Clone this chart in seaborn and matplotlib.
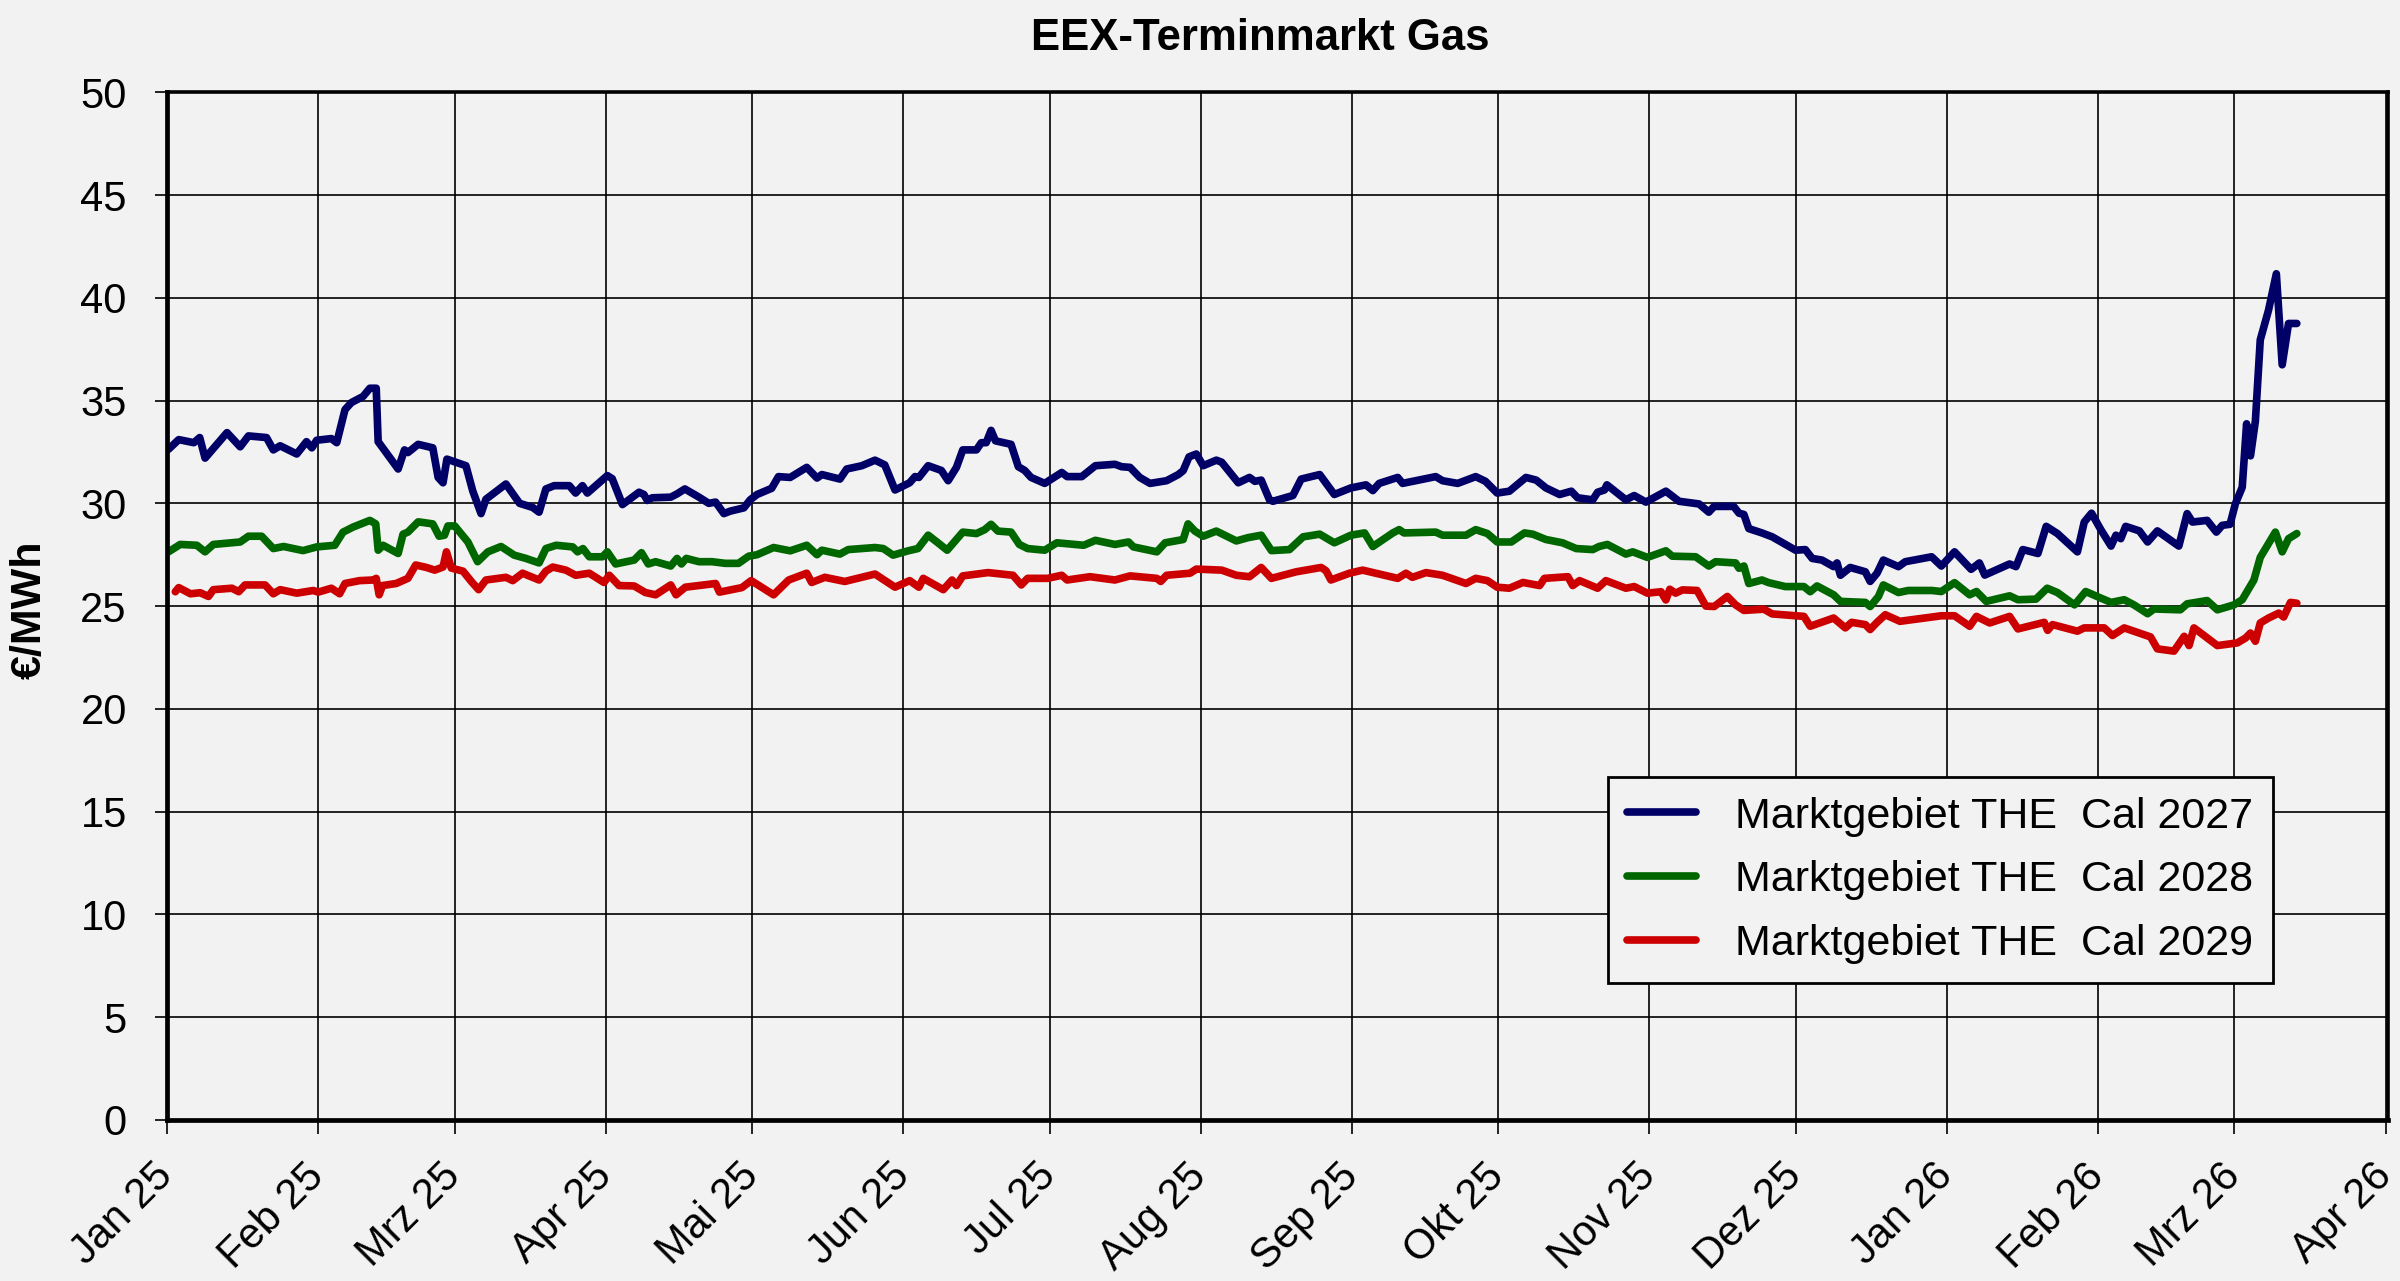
import numpy as np
import pandas as pd
import matplotlib
matplotlib.use("Agg")
import matplotlib.pyplot as plt
import seaborn as sns

# Tage ab 01.01.2025 und Preise in EUR/MWh
days_2027 = [0.3, 2.4, 5.5, 6.7, 7.8, 12.3, 15.0, 16.7, 20.4, 21.8, 23.2, 26.6, 28.6, 29.7, 30.7, 33.7, 34.8,
             36.5, 37.8, 40.2, 41.6, 42.9, 43.3, 47.4, 48.7, 49.4, 51.5, 54.5, 55.6, 56.6, 57.4, 61.3, 62.7,
             64.4, 65.4, 69.5, 72.3, 75.0, 76.3, 77.7, 79.4, 82.5, 83.8, 85.2, 86.2, 90.3, 91.3,
             93.4, 96.8, 97.8, 98.5, 99.5, 103.3, 104.6, 106.2, 109.1, 111.1, 112.5, 114.2, 115.5, 118.3,
             119.6, 121.0, 124.0, 125.4, 127.8, 131.2, 133.3, 134.3, 138.0, 139.4, 142.5, 145.2, 147.2, 149.3,
             152.3, 153.4, 154.2, 156.1, 158.8, 160.2, 161.9, 163.2, 166.0, 167.0, 168.0, 169.0, 169.9, 173.1,
             174.6, 175.9, 177.2, 180.0,
             183.5, 184.6, 187.6, 190.4, 194.4, 195.8, 197.5, 199.5, 201.6, 205.0, 207.4, 208.4, 209.6, 211.1,
             212.5, 215.2, 216.3, 219.7, 222.0, 223.1, 224.4, 226.1, 226.8, 230.9, 232.6, 236.4, 239.4, 242.8,
             245.9, 247.3, 248.6, 251.4, 252.4, 253.4, 260.2, 261.6, 264.7, 268.4, 270.4, 272.8,
             275.3, 278.7, 280.8, 282.8, 285.6, 288.0, 289.3, 292.4, 293.4, 294.8, 295.3, 299.2, 300.9, 303.3,
             307.4, 310.1, 314.2, 316.2, 317.3, 321.3, 322.4, 323.4, 324.4, 327.1, 329.2, 334.0, 336.0, 337.4,
             339.4, 341.8, 342.5, 343.2, 345.2, 348.3, 349.3, 350.7, 352.0, 355.1, 356.5, 361.9,
             363.9, 366.6, 370.0, 371.7, 372.8, 377.9, 379.2, 380.6, 383.7, 385.4, 387.7, 391.8, 393.2, 394.7,
             396.6, 398.7, 399.7, 400.7, 401.7, 404.5, 406.2, 408.2, 412.6, 414.3, 415.4, 418.4, 420.3, 421.5,
             423.1, 424.2, 425.6, 426.5, 427.3, 428.3, 429.3, 431.0, 432.6, 433.8, 435.1, 436.8]
cal_2027 = [32.63, 33.1, 32.95, 33.2, 32.2, 33.44, 32.75, 33.28, 33.2, 32.6, 32.8, 32.4, 33.0, 32.7, 33.07, 33.15, 32.95,
            34.56, 34.9, 35.2, 35.6, 35.6, 33.0, 31.67, 32.6, 32.47, 32.87, 32.7, 31.26, 31.0, 32.15, 31.83, 30.6,
            29.5, 30.2, 30.94, 30.0, 29.8, 29.57, 30.7, 30.86, 30.86, 30.5, 30.86, 30.5, 31.35, 31.2,
            29.94, 30.54, 30.43, 30.14, 30.27, 30.3, 30.46, 30.7, 30.3, 30.0, 30.06, 29.5, 29.62, 29.78,
            30.17, 30.43, 30.73, 31.3, 31.26, 31.75, 31.23, 31.4, 31.18, 31.67, 31.83, 32.1, 31.87, 30.65,
            31.0, 31.3, 31.26, 31.83, 31.6, 31.1, 31.75, 32.6, 32.6, 32.95, 32.95, 33.55, 33.04, 32.87,
            31.78, 31.6, 31.26, 30.97,
            31.5, 31.3, 31.3, 31.83, 31.9, 31.78, 31.75, 31.26, 30.97, 31.1, 31.4, 31.59, 32.26, 32.4,
            31.83, 32.1, 32.0, 31.0, 31.26, 31.07, 31.13, 30.17, 30.1, 30.38, 31.18, 31.4, 30.43, 30.75,
            30.9, 30.62, 30.97, 31.18, 31.26, 30.97, 31.3, 31.1, 30.97, 31.3, 31.07, 30.5,
            30.59, 31.26, 31.13, 30.75, 30.43, 30.59, 30.27, 30.17, 30.54, 30.65, 30.9, 30.17, 30.38, 30.06,
            30.59, 30.1, 29.97, 29.57, 29.85, 29.85, 29.52, 29.46, 28.77, 28.56, 28.37, 27.72, 27.75, 27.32,
            27.24, 26.92, 27.1, 26.5, 26.88, 26.67, 26.2, 26.6, 27.24, 26.92, 27.16, 27.4,
            26.95, 27.64, 26.79, 27.1, 26.51, 27.05, 26.92, 27.75, 27.56, 28.88, 28.53, 27.64, 29.09, 29.52,
            28.72, 27.92, 28.45, 28.28, 28.88, 28.66, 28.12, 28.66, 27.92, 29.5, 29.09, 29.17, 28.6, 28.93,
            28.98, 29.98, 30.78, 33.87, 32.31, 34.0, 37.95, 39.4, 41.17, 36.74, 38.75, 38.75]

days_2028 = [0.3, 2.7, 6.1, 7.8, 9.5, 15.0, 16.7, 19.4, 21.8, 23.9, 27.9, 30.7, 34.4, 36.1, 38.2, 41.6, 42.8,
             43.3, 44.3, 47.4, 48.4, 49.4, 51.5, 54.5, 55.8, 56.9, 57.6, 59.0, 61.7, 63.7, 65.8, 68.5, 71.2,
             73.6, 76.3, 77.7, 79.8, 83.2, 84.2, 85.3, 86.6, 89.3, 90.3,
             92.0, 95.8, 97.3, 98.7, 100.2, 103.3, 104.6, 105.5, 106.5, 109.1, 111.8, 114.5, 117.2, 119.3,
             121.0, 124.4, 127.8, 131.2, 133.3, 134.3, 138.0, 139.7, 145.2, 146.9, 148.9, 152.0, 154.0, 156.1,
             158.1, 160.0, 163.2, 166.0, 167.7, 169.0, 170.4, 173.1, 174.8, 176.5, 180.0,
             182.5, 188.0, 190.4, 194.4, 197.2, 198.2, 203.0, 204.7, 208.4, 209.4, 210.8, 212.5, 215.2, 219.3,
             221.7, 224.4, 226.5, 230.2, 233.0, 236.4, 239.4, 242.8, 245.6, 247.3, 251.4, 252.7, 253.7, 260.2,
             261.6, 266.4, 268.4, 270.8, 272.8,
             275.7, 278.4, 280.1, 282.8, 286.2, 289.0, 292.4, 293.7, 295.4, 299.2, 300.6, 303.6, 307.4, 308.7,
             313.5, 316.2, 317.6, 321.7, 322.4, 323.4, 324.4, 327.1, 328.5, 331.9, 335.7, 337.0, 338.4, 341.8,
             343.2, 348.3, 349.3, 351.0, 352.0, 355.1, 357.1, 361.9,
             363.9, 366.6, 369.7, 371.1, 373.1, 377.9, 379.6, 383.3, 385.6, 387.7, 391.2, 393.5, 396.6, 398.7,
             401.4, 403.4, 406.2, 407.5, 412.9, 414.3, 418.4, 420.5, 423.9, 425.6, 428.0, 429.3, 431.0, 432.4,
             433.8, 435.1, 436.8]
cal_2028 = [27.64, 28.0, 27.96, 27.64, 28.0, 28.12, 28.4, 28.4, 27.8, 27.9, 27.7, 27.88, 27.96, 28.6, 28.85, 29.17, 29.0,
            27.72, 27.96, 27.56, 28.5, 28.6, 29.1, 29.0, 28.4, 28.45, 28.9, 28.9, 28.12, 27.16, 27.64, 27.9, 27.48,
            27.32, 27.1, 27.8, 27.96, 27.88, 27.64, 27.8, 27.4, 27.4, 27.64,
            27.05, 27.24, 27.6, 27.05, 27.16, 26.95, 27.32, 27.05, 27.32, 27.16, 27.16, 27.08, 27.08, 27.43,
            27.5, 27.85, 27.69, 27.96, 27.5, 27.72, 27.53, 27.75, 27.85, 27.8, 27.48, 27.69, 27.8, 28.45,
            28.08, 27.72, 28.6, 28.53, 28.72, 28.98, 28.65, 28.6, 28.0, 27.8, 27.72,
            28.08, 27.96, 28.2, 28.0, 28.12, 27.88, 27.64, 28.08, 28.24, 29.0, 28.65, 28.4, 28.65, 28.17,
            28.33, 28.45, 27.7, 27.75, 28.37, 28.5, 28.08, 28.45, 28.56, 27.9, 28.56, 28.72, 28.56, 28.6,
            28.45, 28.45, 28.72, 28.53, 28.12,
            28.12, 28.56, 28.5, 28.24, 28.08, 27.8, 27.75, 27.9, 28.0, 27.53, 27.64, 27.37, 27.69, 27.43,
            27.4, 26.95, 27.16, 27.1, 26.84, 26.95, 26.1, 26.27, 26.14, 25.95, 25.95, 25.7, 25.98, 25.55,
            25.23, 25.18, 24.98, 25.47, 26.03, 25.66, 25.76, 25.76,
            25.71, 26.14, 25.55, 25.71, 25.23, 25.5, 25.31, 25.34, 25.87, 25.66, 25.06, 25.71, 25.39, 25.18,
            25.31, 25.06, 24.63, 24.86, 24.82, 25.11, 25.27, 24.82, 25.06, 25.31, 26.27, 27.37, 28.04, 28.6,
            27.64, 28.28, 28.53]

days_2029 = [1.7, 2.4, 4.8, 6.8, 8.5, 9.5, 13.3, 14.7, 16.0, 20.1, 21.8, 23.2, 26.6, 30.0, 31.0, 33.7, 35.4,
             36.5, 39.5, 42.3, 42.9, 43.5, 44.2, 47.0, 49.4, 51.0, 53.2, 54.9, 56.6, 57.3, 58.3, 60.7, 62.4,
             63.9, 65.4, 69.5, 70.9, 72.9, 76.3, 77.7, 79.1, 81.8, 83.8, 86.6, 89.6, 90.7, 92.7,
             95.8, 98.1, 100.2, 103.3, 104.4, 106.3, 112.5, 113.3, 117.9, 119.8, 124.4, 127.5, 131.2, 132.2,
             134.9, 139.0, 145.2, 149.3, 152.3, 154.2, 155.1, 159.2, 161.0, 161.9, 163.2, 168.4, 173.5, 175.2,
             176.5, 180.6,
             183.5, 184.6, 189.3, 194.4, 197.5, 203.0, 203.8, 205.0, 209.8, 211.1, 216.3, 219.3, 222.0, 224.4,
             226.5, 231.6, 236.7, 237.7, 238.7, 242.5, 245.2, 252.4, 254.1, 255.4, 258.2, 261.6, 266.4, 268.4,
             270.8, 272.8,
             275.3, 278.1, 281.5, 282.5, 287.3, 288.3, 289.7, 293.4, 295.1, 299.2, 300.9, 303.6, 306.4, 307.4,
             308.2, 309.4, 310.8, 313.8, 315.6, 317.3, 320.0, 321.7, 323.4, 327.5, 329.2, 335.7, 337.0, 341.8,
             344.2, 345.5, 348.3, 349.3, 350.7, 352.4, 355.4, 360.5,
             363.9, 366.6, 369.7, 371.1, 373.8, 377.9, 379.6, 385.0, 385.7, 386.7, 391.8, 393.2, 397.3, 399.0,
             401.4, 406.8, 408.2, 411.6, 413.7, 414.7, 415.7, 420.5, 424.6, 426.3, 427.3, 428.3, 429.3, 431.0,
             433.1, 434.1, 435.5, 436.8]
cal_2029 = [25.7, 25.9, 25.6, 25.65, 25.47, 25.8, 25.87, 25.7, 26.03, 26.03, 25.6, 25.8, 25.63, 25.76, 25.68, 25.87, 25.6,
            26.1, 26.24, 26.27, 26.35, 25.55, 26.0, 26.1, 26.35, 27.0, 26.88, 26.75, 26.9, 27.64, 26.85, 26.7, 26.2,
            25.8, 26.27, 26.4, 26.24, 26.6, 26.27, 26.7, 26.9, 26.75, 26.5, 26.6, 26.15, 26.5, 26.0,
            25.98, 25.66, 25.55, 26.03, 25.55, 25.92, 26.1, 25.68, 25.9, 26.24, 25.55, 26.27, 26.6, 26.15,
            26.4, 26.2, 26.56, 25.92, 26.24, 25.92, 26.35, 25.8, 26.27, 26.0, 26.47, 26.63, 26.5, 26.03,
            26.35, 26.35,
            26.5, 26.27, 26.43, 26.27, 26.47, 26.35, 26.2, 26.5, 26.6, 26.8, 26.75, 26.5, 26.43, 26.88,
            26.35, 26.67, 26.88, 26.72, 26.27, 26.6, 26.75, 26.35, 26.6, 26.4, 26.63, 26.5, 26.1, 26.35,
            26.24, 25.92,
            25.87, 26.15, 26.0, 26.35, 26.43, 26.0, 26.24, 25.87, 26.24, 25.87, 25.95, 25.63, 25.7, 25.3,
            25.82, 25.63, 25.79, 25.76, 25.0, 24.98, 25.47, 25.06, 24.79, 24.85, 24.62, 24.5, 24.02, 24.42,
            23.94, 24.21, 24.1, 23.86, 24.21, 24.58, 24.26, 24.42,
            24.53, 24.53, 24.02, 24.5, 24.18, 24.5, 23.89, 24.21, 23.82, 24.1, 23.78, 23.94, 23.94, 23.57,
            23.94, 23.5, 22.92, 22.81, 23.53, 23.08, 23.94, 23.08, 23.21, 23.45, 23.69, 23.29, 24.18, 24.42,
            24.66, 24.47, 25.18, 25.14]

series_names = ["Marktgebiet THE  Cal 2027", "Marktgebiet THE  Cal 2028", "Marktgebiet THE  Cal 2029"]
series_colors = ["#000066", "#006600", "#cc0000"]
month_labels = ["Jan 25", "Feb 25", "Mrz 25", "Apr 25", "Mai 25", "Jun 25", "Jul 25", "Aug 25",
                "Sep 25", "Okt 25", "Nov 25", "Dez 25", "Jan 26", "Feb 26", "Mrz 26", "Apr 26"]


def to_dates(days):
    return pd.Timestamp("2025-01-01") + pd.to_timedelta(np.array(days), unit="D")


def main():
    sns.set_theme(style="ticks")
    plt.rcParams["font.family"] = ["Liberation Sans", "DejaVu Sans"]
    for key in ["text.color", "axes.labelcolor", "xtick.color", "ytick.color"]:
        plt.rcParams[key] = "black"
    bg = "#f2f2f2"

    fig, ax = plt.subplots(figsize=(24, 12.81), dpi=100)
    fig.patch.set_facecolor(bg)
    ax.set_facecolor(bg)
    fig.subplots_adjust(left=0.0696, right=0.995, top=0.928, bottom=0.1257)

    for days, vals, name, col in zip([days_2027, days_2028, days_2029],
                                     [cal_2027, cal_2028, cal_2029],
                                     series_names, series_colors):
        df = pd.DataFrame({"datum": to_dates(days), "preis": vals})
        sns.lineplot(data=df, x="datum", y="preis", ax=ax, color=col, linewidth=5.5,
                     estimator=None, sort=False, label=name, zorder=3)

    ticks = pd.date_range("2025-01-01", "2026-04-01", freq="MS")
    ax.set_xlim(pd.Timestamp("2025-01-01"), pd.Timestamp("2026-04-01 12:00"))
    ax.set_xticks(ticks)
    ax.set_xticklabels(month_labels, rotation=45, ha="right", va="center",
                       rotation_mode="anchor", fontsize=30)
    ax.set_ylim(0, 50)
    ax.set_yticks(np.arange(0, 51, 5))
    ax.tick_params(axis="y", labelsize=30, length=9, width=1.2, pad=20, colors="black")
    ax.tick_params(axis="x", length=10, width=1.2, pad=26, colors="black")

    ax.grid(True, color="black", linewidth=1.2)
    ax.set_axisbelow(True)
    for side in ["left", "bottom"]:
        ax.spines[side].set_linewidth(3.4)
    for side in ["top", "right"]:
        ax.spines[side].set_linewidth(2.6)
    for sp in ax.spines.values():
        sp.set_color("black")
        sp.set_zorder(4)

    ax.set_xlabel("")
    ax.set_ylabel("")
    fig.text(0.004, 0.524, "€/MWh", rotation=90, va="center", ha="left",
             fontsize=31, fontweight="bold")
    fig.text(0.525, 0.970, "EEX-Terminmarkt Gas", ha="center", va="center",
             fontsize=31.5, fontweight="bold")

    leg = ax.legend(loc="lower right", bbox_to_anchor=(0.948, 0.133), fontsize=31,
                    frameon=True, fancybox=False, edgecolor="black", facecolor=bg,
                    framealpha=1, handlelength=1.6, handletextpad=0.9,
                    borderpad=0.45, labelspacing=0.55, borderaxespad=0)
    leg.get_frame().set_linewidth(2.0)

    fig.savefig("out.png", dpi=100, facecolor=bg)


if __name__ == "__main__":
    main()
